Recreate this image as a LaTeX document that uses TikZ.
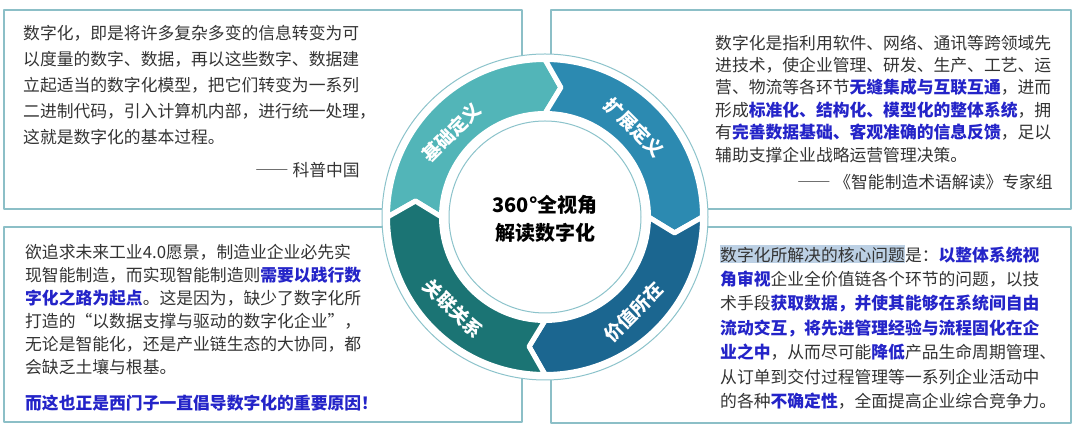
\documentclass[tikz,border=0pt]{standalone}
\usepackage{fontspec}
\setmainfont{Noto Sans CJK SC}
\usetikzlibrary{positioning}
\definecolor{panelline}{HTML}{8CBFC7}
\definecolor{ringline}{HTML}{8CC3CB}
\definecolor{basisteal}{HTML}{52B5B8}
\definecolor{extendblue}{HTML}{2C8AB1}
\definecolor{valueblue}{HTML}{1B6690}
\definecolor{linkteal}{HTML}{1B7474}
\definecolor{bodygray}{HTML}{333333}
\definecolor{keyblue}{HTML}{2424C8}
\definecolor{selectblue}{HTML}{BCD0E4}
\setlength{\fboxsep}{0pt}

\begin{document}
\begin{tikzpicture}[
  x=1pt,
  y=1pt,
  line join=round,
  panel/.style={draw=panelline,line width=1.1pt},
  ringdisk/.style={fill=white,draw=ringline,line width=1pt},
  bandpiece/.style={draw=white,line width=5pt},
  bandlabel/.style={text=white,inner sep=0pt,font=\bfseries\fontsize{18.5}{20}\selectfont},
  bodytext/.style={inner sep=0pt,anchor=north west,align=left,text=bodygray,
    font=\fontsize{16.8}{#1}\selectfont},
  sourceline/.style={inner sep=0pt,anchor=east,text=bodygray,font=\fontsize{16.8}{20}\selectfont},
  hubtext/.style={align=center,inner sep=0pt,text=black,font=\bfseries\fontsize{20}{28}\selectfont}
]
  \newcommand{\keyphrase}[1]{{\bfseries\color{keyblue}#1}}
  \newcommand{\selectmark}[1]{\colorbox{selectblue}{\rule[-0.1em]{0pt}{1.08em}#1}}
  \newcommand{\longdash}{{\addfontfeature{RawFeature=+fwid}——}}
  \newcommand{\drawbandarrow}[2]{%
    \path[bandpiece,fill=#2] (#1:157.5) arc[start angle=#1,end angle=#1-90,radius=157.5]
      -- (#1-97:130.5) -- (#1-90:103.5)
      arc[start angle=#1-90,end angle=#1,radius=103.5]
      -- (#1-7:130.5) -- cycle;
  }

  \useasboundingbox (0,0) rectangle (1080,441);

  % The four quotation panels round the ring.
  \draw[panel] (4,232) rectangle (522,431);
  \draw[panel] (551,232) rectangle (1071,431);
  \draw[panel] (4,19) rectangle (522,214);
  \draw[panel] (551,18) rectangle (1071,214);

  % Ring in the middle, clockwise arrows.
  \begin{scope}[shift={(545,224)}]
    \path[ringdisk] (0,0) circle[radius=163];
    \drawbandarrow{180}{basisteal}
    \drawbandarrow{90}{extendblue}
    \drawbandarrow{0}{valueblue}
    \drawbandarrow{-90}{linkteal}
    \path[ringdisk] (0,0) circle[radius=96];
    \node[bandlabel,rotate=45] (basis) at (138:126) {基础定义};
    \node[bandlabel,rotate=-45] (extend) at (45:126) {扩展定义};
    \node[bandlabel,rotate=45] (value) at (-47:130) {价值所在};
    \node[bandlabel,rotate=-45] (link) at (-135:130) {关联关系};
    \node[hubtext] (hub) at (0,-2) {360°全视角\\解读数字化};
  \end{scope}

  % Top left: basic definition.
  \node[bodytext=25.8] (basistext) at (23,415.5) {%
    数字化，即是将许多复杂多变的信息转变为可\\
    以度量的数字、数据，再以这些数字、数据建\\
    立起适当的数字化模型，把它们转变为一系列\\
    二进制代码，引入计算机内部，进行统一处理，\\
    这就是数字化的基本过程。};
  \node[sourceline] (basissource) at (360,271) {\longdash{} 科普中国};

  % Top right: extended definition.
  \node[bodytext=22.4] (extendtext) at (715,406.5) {%
    数字化是指利用软件、网络、通讯等跨领域先\\
    进技术，使企业管理、研发、生产、工艺、运\\
    营、物流等各环节\keyphrase{无缝集成与互联互通}，进而\\
    形成\keyphrase{标准化、结构化、模型化的整体系统}，拥\\
    有\keyphrase{完善数据基础、客观准确的信息反馈}，足以\\
    辅助支撑企业战略运营管理决策。};
  \node[sourceline] (extendsource) at (1053,259) {\longdash{} 《智能制造术语解读》专家组};

  % Bottom left: how it links up.
  \node[bodytext=23] (linktext) at (25,196.5) {%
    欲追求未来工业4.0愿景，制造业企业必先实\\
    现智能制造，而实现智能制造则\keyphrase{需要以践行数}\\
    \keyphrase{字化之路为起点}。这是因为，缺少了数字化所\\
    打造的“以数据支撑与驱动的数字化企业”，\\
    无论是智能化，还是产业链生态的大协同，都\\
    会缺乏土壤与根基。};
  \node[inner sep=0pt,anchor=west,font=\fontsize{16.8}{20}\selectfont] (linkclosing) at (25,38)
    {\keyphrase{而这也正是西门子一直倡导数字化的重要原因！}};

  % Bottom right: where the value lies.
  \node[bodytext=24.4] (valuetext) at (720,196.5) {%
    \selectmark{数字化所解决的核心问题}是：\keyphrase{以整体系统视}\\
    \keyphrase{角审视}企业全价值链各个环节的问题，以技\\
    术手段\keyphrase{获取数据，并使其能够在系统间自由}\\
    \keyphrase{流动交互，将先进管理经验与流程固化在企}\\
    \keyphrase{业之中}，从而尽可能\keyphrase{降低}产品生命周期管理、\\
    从订单到交付过程管理等一系列企业活动中\\
    的各种\keyphrase{不确定性}，全面提高企业综合竞争力。};
\end{tikzpicture}
\end{document}
